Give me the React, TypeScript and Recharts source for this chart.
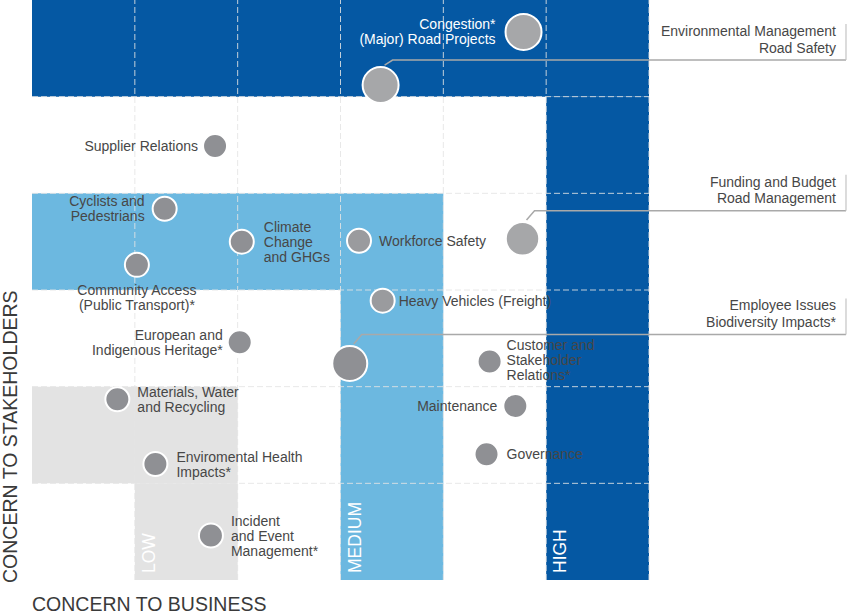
import {
  ScatterChart,
  Scatter,
  XAxis,
  YAxis,
  ZAxis,
  ReferenceArea,
  ReferenceLine,
} from "recharts";

// issues plotted on the matrix (one bubble each)
const ISSUES = [
  "Congestion / Major Road Projects",
  "Environmental Management / Road Safety",
  "Supplier Relations",
  "Cyclists and Pedestrians",
  "Climate Change and GHGs",
  "Community Access",
  "Workforce Safety",
  "Funding and Budget / Road Management",
  "Heavy Vehicles",
  "Employee Issues / Biodiversity Impacts",
  "European and Indigenous Heritage",
  "Customer and Stakeholder Relations",
  "Maintenance",
  "Governance",
  "Materials, Water and Recycling",
  "Enviromental Health Impacts",
  "Incident and Event Management",
];

// concern to business (x) and concern to stakeholders (y), 0..6
const BUSINESS = [4.78, 3.39, 1.78, 1.29, 2.04, 1.02, 3.18, 4.77, 3.41, 3.09, 2.02, 4.45, 4.7, 4.42, 0.83, 1.2, 1.74];
const STAKEHOLDERS = [5.67, 5.12, 4.49, 3.84, 3.5, 3.26, 3.51, 3.53, 2.89, 2.24, 2.46, 2.26, 1.8, 1.3, 1.87, 1.2, 0.46];
const IMPORTANCE = [3, 3, 1, 1, 1, 1, 1, 2.5, 1, 2.8, 1, 1, 1, 1, 1, 1, 1];

const LABEL_LINES = [
  ["Congestion*", "(Major) Road Projects"],
  ["Environmental Management", "Road Safety"],
  ["Supplier Relations"],
  ["Cyclists and", "Pedestrians"],
  ["Climate", "Change", "and GHGs"],
  ["Community Access", "(Public Transport)*"],
  ["Workforce Safety"],
  ["Funding and Budget", "Road Management"],
  ["Heavy Vehicles (Freight)"],
  ["Employee Issues", "Biodiversity Impacts*"],
  ["European and", "Indigenous Heritage*"],
  ["Customer and", "Stakeholder", "Relations*"],
  ["Maintenance"],
  ["Governance"],
  ["Materials, Water", "and Recycling"],
  ["Enviromental Health", "Impacts*"],
  ["Incident", "and Event", "Management*"],
];

const LEVELS = ["LOW", "MEDIUM", "HIGH"];
const X_TICKS = [1, 2, 3, 4, 5, 6];
const Y_TICKS = [1, 2, 3, 4, 5];

const data = ISSUES.map((name, i) => ({
  name,
  x: BUSINESS[i],
  y: STAKEHOLDERS[i],
  z: IMPORTANCE[i],
  lines: LABEL_LINES[i],
}));

// presentation of each label
type Side = "left" | "right" | "below" | "callout";
const LAYOUT: Record<string, { side: Side; gap?: number; rise?: number; dy?: number; tone?: string; white?: boolean }> = {
  "Congestion / Major Road Projects": { side: "left", gap: 11, tone: "#a6a7a9", white: true },
  "Environmental Management / Road Safety": { side: "callout", rise: 25, tone: "#a6a7a9" },
  "Supplier Relations": { side: "left", gap: 6 },
  "Cyclists and Pedestrians": { side: "left", gap: 9 },
  "Climate Change and GHGs": { side: "right", gap: 11 },
  "Community Access": { side: "below" },
  "Workforce Safety": { side: "right", gap: 9, tone: "#9a9b9e" },
  "Funding and Budget / Road Management": { side: "callout", rise: 28, tone: "#a6a7a9" },
  "Heavy Vehicles": { side: "right", gap: 5, tone: "#9a9b9e" },
  "Employee Issues / Biodiversity Impacts": { side: "callout", rise: 29 },
  "European and Indigenous Heritage": { side: "left", gap: 6 },
  "Customer and Stakeholder Relations": { side: "right", gap: 6, dy: -2 },
  Maintenance: { side: "left", gap: 7 },
  Governance: { side: "right", gap: 9 },
  "Materials, Water and Recycling": { side: "right", gap: 9 },
  "Enviromental Health Impacts": { side: "right", gap: 10 },
  "Incident and Event Management": { side: "right", gap: 9 },
};

const FONT = "'Liberation Sans', Arial, sans-serif";
const TEXT = "#474747";
const DARK = "#0558a3";
const LIGHT = "#6cb8e0";
const GREY = "#e3e3e3";
const LEADER = "#a9a9a9";
const GRID = "#e4e4e4";
const CALLOUT_RIGHT = 846;

function TextBlock({ x, y, lines, anchor, fill, lh }: any) {
  return (
    <text x={x} y={y} textAnchor={anchor} fill={fill} fontSize={14} fontFamily={FONT}>
      {lines.map((l: string, i: number) => (
        <tspan key={i} x={x} dy={i === 0 ? 0 : lh}>
          {l}
        </tspan>
      ))}
    </text>
  );
}

function Bubble(props: any) {
  const { cx, cy, payload } = props;
  if (cx == null || cy == null) return null;
  const r = props.width ? props.width / 2 : Math.sqrt((props.size || 380) / Math.PI);
  const lay = LAYOUT[payload.name] ?? { side: "right" };
  const lines: string[] = payload.lines;
  const n = lines.length;
  const lh = 15;
  const fill = lay.white ? "#ffffff" : TEXT;
  const gap = lay.gap ?? 8;
  const baseY = cy - ((n - 1) * lh) / 2 + 5 + (lay.dy ?? 0);

  let label = null;
  if (lay.side === "left") {
    label = <TextBlock x={cx - r - gap} y={baseY} lines={lines} anchor="end" fill={fill} lh={lh} />;
  } else if (lay.side === "right") {
    label = <TextBlock x={cx + r + gap} y={baseY} lines={lines} anchor="start" fill={fill} lh={lh} />;
  } else if (lay.side === "below") {
    label = <TextBlock x={cx} y={cy + 30} lines={lines} anchor="middle" fill={fill} lh={lh} />;
  } else {
    const lineY = cy - (lay.rise ?? 28);
    const sx = cx + 4;
    const sy = cy - r - 3;
    label = (
      <g>
        <polyline
          points={`${sx},${sy} ${sx + 8},${lineY} ${CALLOUT_RIGHT},${lineY}`}
          fill="none"
          stroke={LEADER}
          strokeWidth={1.5}
        />
        <line x1={CALLOUT_RIGHT} y1={lineY - 36} x2={CALLOUT_RIGHT} y2={lineY} stroke="#c4c4c4" strokeWidth={1.2} />
        <TextBlock x={836} y={lineY - 24} lines={lines} anchor="end" fill={TEXT} lh={16.5} />
      </g>
    );
  }

  return (
    <g>
      <circle cx={cx} cy={cy} r={r + 1} fill={lay.tone ?? "#8f9094"} stroke="#ffffff" strokeWidth={2} />
      {label}
    </g>
  );
}

const levelLabel = (text: string) => (p: any) => {
  const vb = p.viewBox;
  if (!vb) return null;
  const x = vb.x + 20;
  const y = vb.y + vb.height - 7;
  return (
    <text
      x={x}
      y={y}
      transform={`rotate(-90, ${x}, ${y})`}
      fill="#ffffff"
      fontSize={17.5}
      fontFamily={FONT}
      textAnchor="start"
    >
      {text}
    </text>
  );
};

export default function App() {
  return (
    <div style={{ position: "absolute", left: 0, top: 0, background: "#ffffff" }}>
      <ScatterChart width={848} height={615} margin={{ top: 0, right: 199, bottom: 0, left: 0 }}>
        <XAxis
          type="number"
          dataKey="x"
          domain={[0, 6]}
          ticks={X_TICKS}
          tick={false}
          tickLine={false}
          axisLine={false}
          height={35}
          label={{
            content: (p: any) => (
              <text x={p.viewBox.x} y={p.viewBox.y + 31} fill="#3a3a3a" fontSize={19.5} fontFamily={FONT}>
                CONCERN TO BUSINESS
              </text>
            ),
          }}
        />
        <YAxis
          type="number"
          dataKey="y"
          domain={[0, 6]}
          ticks={Y_TICKS}
          tick={false}
          tickLine={false}
          axisLine={false}
          width={32}
          label={{
            content: (p: any) => {
              const x = p.viewBox.x + 17;
              const y = p.viewBox.y + p.viewBox.height + 3;
              return (
                <text x={x} y={y} transform={`rotate(-90, ${x}, ${y})`} fill="#3a3a3a" fontSize={19.5} fontFamily={FONT}>
                  CONCERN TO STAKEHOLDERS
                </text>
              );
            },
          }}
        />
        <ZAxis type="number" dataKey="z" domain={[1, 3]} range={[380, 908]} />

        <ReferenceArea x1={0} x2={6} y1={5} y2={6} fill={DARK} fillOpacity={1} stroke="none" />
        <ReferenceArea x1={5} x2={6} y1={0} y2={5} fill={DARK} fillOpacity={1} stroke="none" label={{ content: levelLabel(LEVELS[2]) }} />
        <ReferenceArea x1={0} x2={4} y1={3} y2={4} fill={LIGHT} fillOpacity={1} stroke="none" />
        <ReferenceArea x1={3} x2={4} y1={0} y2={3} fill={LIGHT} fillOpacity={1} stroke="none" label={{ content: levelLabel(LEVELS[1]) }} />
        <ReferenceArea x1={0} x2={2} y1={1} y2={2} fill={GREY} fillOpacity={1} stroke="none" />
        <ReferenceArea x1={1} x2={2} y1={0} y2={1} fill={GREY} fillOpacity={1} stroke="none" label={{ content: levelLabel(LEVELS[0]) }} />

        {X_TICKS.map((t) => (
          <ReferenceLine key={`gx${t}`} x={t} stroke={GRID} strokeOpacity={0.85} strokeDasharray="6 3" />
        ))}
        {Y_TICKS.map((t) => (
          <ReferenceLine key={`gy${t}`} y={t} stroke={GRID} strokeOpacity={0.85} strokeDasharray="6 3" />
        ))}

        <Scatter data={data} shape={Bubble} isAnimationActive={false} />
      </ScatterChart>
    </div>
  );
}
